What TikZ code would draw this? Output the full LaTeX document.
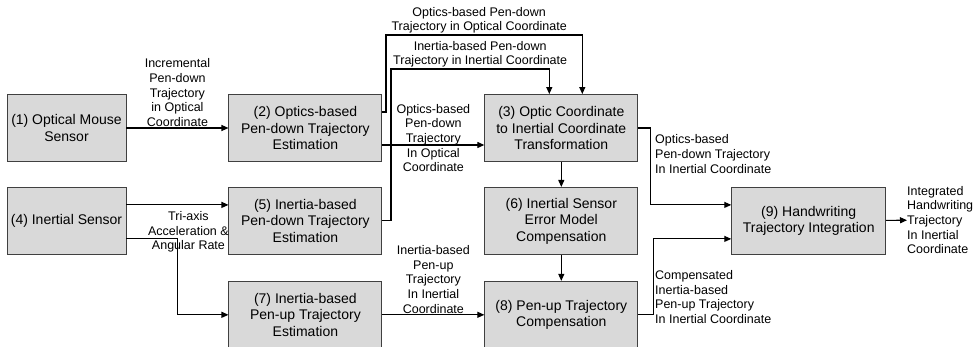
\documentclass[tikz,border=0pt]{standalone}
\usepackage{fontspec}
\setmainfont{Liberation Sans}
\usetikzlibrary{arrows.meta, positioning, calc}
\definecolor{boxfill}{HTML}{D9D9D9}
\definecolor{boxline}{HTML}{404040}

\begin{document}
\begin{tikzpicture}[x=1pt, y=1pt, node distance=25pt and 102pt,
  block/.style={draw=boxline, fill=boxfill, line width=0.9pt, minimum width=153pt,
                minimum height=67pt, align=center, inner sep=2pt,
                font=\fontsize{14}{16.5}\selectfont},
  lbl/.style={align=center, inner sep=1pt, font=\fontsize{12.5}{14.6}\selectfont},
  arrow/.style={-{Triangle[length=7pt, width=6pt]}, line width=1.1pt}]

  \useasboundingbox (0,0) rectangle (978,346);

  \node[block, minimum width=119pt] (s1) at (66.5,218) {(1) Optical Mouse\\Sensor};
  \node[block, right=of s1]              (s2) {(2) Optics-based\\Pen-down Trajectory\\Estimation};
  \node[block, right=of s2]              (s3) {(3) Optic Coordinate\\to Inertial Coordinate\\Transformation};
  \node[block, minimum width=119pt, below=of s1] (s4) {(4) Inertial Sensor};
  \node[block, below=of s2]              (s5) {(5) Inertia-based\\Pen-down Trajectory\\Estimation};
  \node[block, below=of s3]              (s6) {(6) Inertial Sensor\\Error Model\\Compensation};
  \node[block, below=26pt of s5]         (s7) {(7) Inertia-based\\Pen-up Trajectory\\Estimation};
  \node[block, below=26pt of s6]         (s8) {(8) Pen-up Trajectory\\Compensation};
  \node[block, minimum width=154pt, right=93pt of s6] (s9) {(9) Handwriting\\Trajectory Integration};

  \coordinate (top1) at (386,311);
  \coordinate (top2) at (391,277);

  \draw[arrow] (s1) -- node[lbl, above] {Incremental\\Pen-down\\Trajectory\\in Optical\\Coordinate} (s2);
  \draw[arrow] ([yshift=16pt]s2.east) -| (top1)
     -| node[lbl, pos=0.25, above, xshift=-5pt] {Optics-based Pen-down\\Trajectory in Optical Coordinate}
     ([xshift=21pt]s3.north);
  \draw[arrow] (s5.east) -| (top2)
     -| node[lbl, pos=0.25, above, xshift=10pt] {Inertia-based Pen-down\\Trajectory in Inertial Coordinate}
     ([xshift=-12pt]s3.north);
  \draw[arrow] ([yshift=-17pt]s2.east) -- node[lbl, yshift=7pt] {Optics-based\\Pen-down\\Trajectory\\In Optical\\Coordinate} ([yshift=-17pt]s3.west);

  \draw[arrow] ([yshift=16pt]s4.east) -- ([yshift=16pt]s5.west);
  \draw[arrow] ([yshift=-18pt]s4.east) -- ++(51pt,0) |- (s7);
  \node[lbl] (imu) at ([xshift=62pt, yshift=-11pt]s4.east) {Tri-axis\\Acceleration \&\\Angular Rate};

  \draw[arrow] (s3) -- (s6);
  \draw[arrow] (s6) -- (s8);
  \draw[arrow] (s7) -- node[lbl, above] {Inertia-based\\Pen-up\\Trajectory\\In Inertial\\Coordinate} (s8);

  \draw[arrow] (s3.east) -- ++(12pt,0) |- ([yshift=16pt]s9.west);
  \node[lbl, align=left, anchor=west] (optin) at (654,192) {Optics-based\\Pen-down Trajectory\\In Inertial Coordinate};
  \draw[arrow] (s8.east) -- ++(15pt,0) |- ([yshift=-18pt]s9.west);
  \node[lbl, align=left, anchor=west] (compin) at (654,49) {Compensated\\Inertia-based\\Pen-up Trajectory\\In Inertial Coordinate};

  \node[lbl, align=left, anchor=west, inner sep=0pt] (out) at (907,126) {Integrated\\Handwriting\\Trajectory\\In Inertial\\Coordinate};
  \draw[arrow] (s9) -- (out);
\end{tikzpicture}
\end{document}
